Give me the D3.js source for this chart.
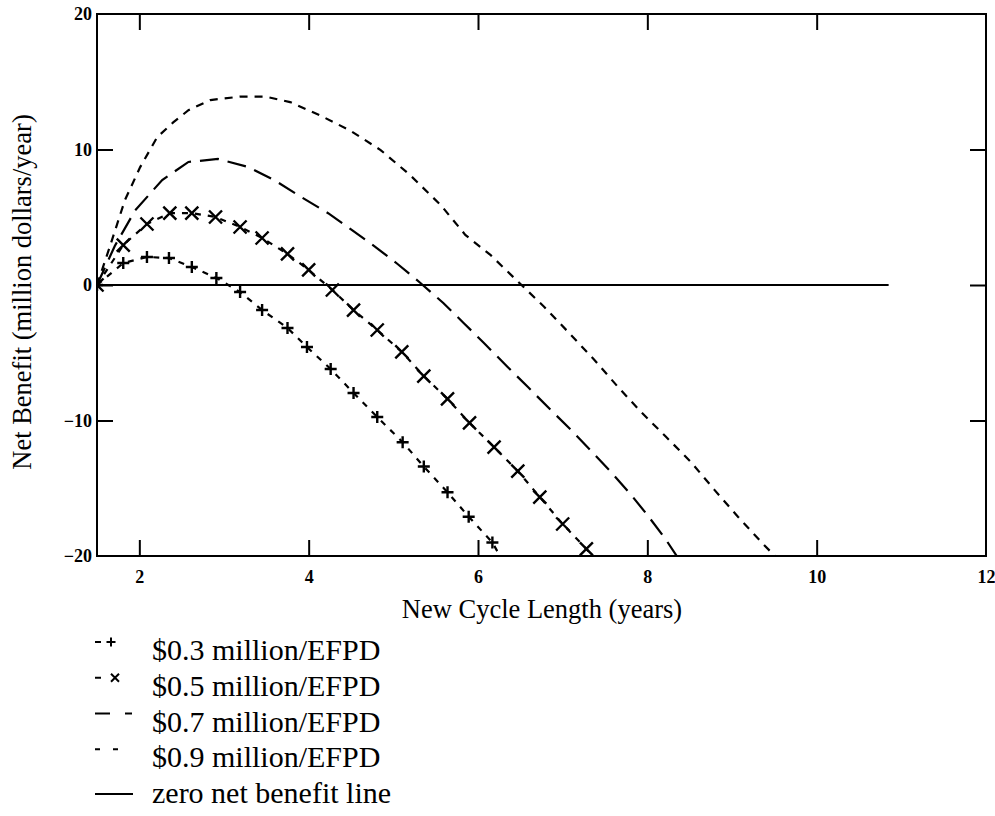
<!DOCTYPE html>
<meta charset="utf-8">
<title>Net Benefit vs New Cycle Length</title>
<style>
  body { margin: 0; background: #fff; }
  text { font-family: "Liberation Serif", "Times New Roman", serif; fill: #000; }
</style>
<body>
<script src="https://d3js.org/d3.v7.min.js"></script>
<script>

// --- data -----------------------------------------------------------
let cycle03   = [1.5, 1.81, 2.09, 2.35, 2.62, 2.91, 3.19, 3.45, 3.75, 3.98, 4.26, 4.53, 4.81, 5.11, 5.36, 5.64, 5.89, 6.17, 6.34];
let benefit03 = [0, 1.62, 2.07, 1.99, 1.33, 0.52, -0.52, -1.85, -3.17, -4.58, -6.2, -7.97, -9.74, -11.6, -13.4, -15.3, -17.1, -19.0, -20.9];

let cycle05   = [1.5, 1.81, 2.09, 2.36, 2.62, 2.9, 3.19, 3.45, 3.75, 4.0, 4.28, 4.53, 4.81, 5.1, 5.36, 5.64, 5.9, 6.19, 6.47, 6.73, 7.0, 7.28, 7.5];
let benefit05 = [0, 2.95, 4.5, 5.31, 5.31, 5.02, 4.28, 3.47, 2.29, 1.11, -0.37, -1.85, -3.32, -4.94, -6.72, -8.41, -10.18, -11.96, -13.73, -15.65, -17.64, -19.48, -21.1];

let cycle07   = [1.5, 1.71, 1.95, 2.27, 2.58, 2.93, 3.29, 3.61, 3.91, 4.23, 4.5, 4.79, 5.05, 5.32, 5.59, 5.83, 6.07, 6.35, 6.59, 6.86, 7.1, 7.33, 7.57, 7.81, 8.01, 8.22, 8.4];
let benefit07 = [0, 2.88, 5.5, 7.75, 9.08, 9.3, 8.7, 7.68, 6.5, 5.3, 4.1, 2.8, 1.55, 0.15, -1.33, -2.8, -4.28, -6.05, -7.53, -9.23, -10.7, -12.2, -13.8, -15.5, -17.05, -18.8, -20.5];

let cycle09   = [1.5, 1.65, 1.83, 2.01, 2.21, 2.4, 2.58, 2.84, 3.19, 3.49, 3.78, 4.14, 4.49, 4.85, 5.2, 5.56, 5.85, 6.15, 6.48, 6.78, 7.07, 7.37, 7.65, 7.93, 8.22, 8.52, 8.79, 9.07, 9.35, 9.6];
let benefit09 = [0, 2.8, 6.27, 8.7, 10.9, 12.0, 12.9, 13.65, 13.9, 13.9, 13.5, 12.5, 11.4, 9.96, 8.1, 5.9, 3.7, 2.2, 0.2, -1.6, -3.5, -5.5, -7.5, -9.4, -11.2, -13.1, -15.1, -17.1, -19.0, -20.6];

let zeroLineX = [1.5, 10.85];

let xTicks = [2, 4, 6, 8, 10, 12];
let yTicks = [-20, -10, 0, 10, 20];

let legendLabels = [
  "$0.3 million/EFPD",
  "$0.5 million/EFPD",
  "$0.7 million/EFPD",
  "$0.9 million/EFPD",
  "zero net benefit line"
];

// --- layout ---------------------------------------------------------
let width = 995, height = 816;
let plot = { left: 97, right: 986, top: 14, bottom: 556 };
let serif = '"Liberation Serif", "Times New Roman", serif';

let x = d3.scaleLinear().domain([1.5, 12]).range([plot.left, plot.right]);
let y = d3.scaleLinear().domain([-20, 20]).range([plot.bottom, plot.top]);

let svg = d3.select('body').append('svg')
    .attr('width', width)
    .attr('height', height);

svg.append('defs').append('clipPath')
    .attr('id', 'clip')
  .append('rect')
    .attr('x', plot.left)
    .attr('y', plot.top)
    .attr('width', plot.right - plot.left)
    .attr('height', plot.bottom - plot.top);

// axes: ticks point inward on all four sides
function styleAxis(g) {
  g.attr('font-family', serif).attr('font-size', 18).attr('font-weight', 'bold');
  g.select('.domain').remove();
  g.selectAll('.tick line').attr('stroke', '#000').attr('stroke-width', 2);
  g.selectAll('.tick text').attr('fill', '#000');
}

svg.append('g')
    .attr('transform', `translate(0,${plot.bottom})`)
    .call(d3.axisBottom(x).tickValues(xTicks).tickSize(-16).tickPadding(14).tickFormat(d3.format('d')))
    .call(styleAxis);

svg.append('g')
    .attr('transform', `translate(0,${plot.top})`)
    .call(d3.axisTop(x).tickValues(xTicks.slice(0, -1)).tickSize(-16).tickFormat(''))
    .call(styleAxis);

svg.append('g')
    .attr('transform', `translate(${plot.left},0)`)
    .call(d3.axisLeft(y).tickValues(yTicks).tickSize(-16).tickPadding(5)
        .tickFormat(d => d < 0 ? '\u2212' + Math.abs(d) : d))
    .call(styleAxis);

svg.append('g')
    .attr('transform', `translate(${plot.right},0)`)
    .call(d3.axisRight(y).tickValues(yTicks.slice(1, -1)).tickSize(-16).tickFormat(''))
    .call(styleAxis);

// remove tick lines that sit on the frame corners
svg.selectAll('.tick').filter(d => d === 20 || d === -20 || d === 12).select('line').remove();

// frame
svg.append('rect')
    .attr('x', plot.left)
    .attr('y', plot.top)
    .attr('width', plot.right - plot.left)
    .attr('height', plot.bottom - plot.top)
    .attr('fill', 'none')
    .attr('stroke', '#000')
    .attr('stroke-width', 2);

// axis titles
svg.append('text')
    .attr('x', 542)
    .attr('y', 618)
    .attr('text-anchor', 'middle')
    .style('font-size', '26.5px')
    .text('New Cycle Length (years)');

svg.append('text')
    .attr('transform', `translate(31,292)rotate(-90)`)
    .attr('text-anchor', 'middle')
    .style('font-size', '26.5px')
    .text('Net Benefit (million dollars/year)');

// curves
let line = d3.line().x(d => x(d[0])).y(d => y(d[1]));
let zip = (a, b) => a.map((v, i) => [v, b[i]]);

let series = [
  { pts: zip(cycle03, benefit03), dash: '6,7', marker: 'plus' },
  { pts: zip(cycle05, benefit05), dash: '6,7', marker: 'times' },
  { pts: zip(cycle07, benefit07), dash: '19,9', marker: null },
  { pts: zip(cycle09, benefit09), dash: '8,7', marker: null }
];

let chart = svg.append('g').attr('clip-path', 'url(#clip)');

chart.append('path')
    .datum(zeroLineX.map(v => [v, 0]))
    .attr('d', line)
    .attr('fill', 'none')
    .attr('stroke', '#000')
    .attr('stroke-width', 2);

chart.selectAll('.curve')
    .data(series)
    .enter().append('path')
      .attr('class', 'curve')
      .attr('d', d => line(d.pts))
      .attr('fill', 'none')
      .attr('stroke', '#000')
      .attr('stroke-width', 2.2)
      .attr('stroke-dasharray', d => d.dash);

function markerPath(type, r) {
  if (type === 'plus') return `M${-r},0L${r},0M0,${-r}L0,${r}`;
  return `M${-r},${-r}L${r},${r}M${-r},${r}L${r},${-r}`;
}

series.filter(s => s.marker).forEach(s => {
  chart.selectAll(null)
      .data(s.pts)
      .enter().append('path')
        .attr('transform', d => `translate(${x(d[0])},${y(d[1])})`)
        .attr('d', markerPath(s.marker, s.marker === 'plus' ? 6 : 6.5))
        .attr('fill', 'none')
        .attr('stroke', '#000')
        .attr('stroke-width', 2.4);
});

// legend
let legend = svg.append('g');
let legendRow = d3.scaleLinear().domain([0, 4]).range([660, 803]);

legend.selectAll('text')
    .data(legendLabels)
    .enter().append('text')
      .attr('x', 152)
      .attr('y', (d, i) => legendRow(i))
      .style('font-size', '30px')
      .text(d => d);

let keys = [
  { segs: [[95, 101]], marker: 'plus', mx: 111, raise: 18 },
  { segs: [[95, 101]], marker: 'times', mx: 115, raise: 18 },
  { segs: [[95, 110], [125, 132]], marker: null, raise: 18 },
  { segs: [[95, 100], [113, 118]], marker: null, raise: 18 },
  { segs: [[95, 133]], marker: null, raise: 9 }
];

keys.forEach((k, i) => {
  let ky = legendRow(i) - k.raise;
  k.segs.forEach(s => {
    legend.append('line')
        .attr('x1', s[0]).attr('x2', s[1])
        .attr('y1', ky).attr('y2', ky)
        .attr('stroke', '#000')
        .attr('stroke-width', 2);
  });
  if (k.marker) {
    legend.append('path')
        .attr('transform', `translate(${k.mx},${ky})`)
        .attr('d', markerPath(k.marker, k.marker === 'plus' ? 4.5 : 4))
        .attr('fill', 'none')
        .attr('stroke', '#000')
        .attr('stroke-width', 2);
  }
});

</script>
</body>
